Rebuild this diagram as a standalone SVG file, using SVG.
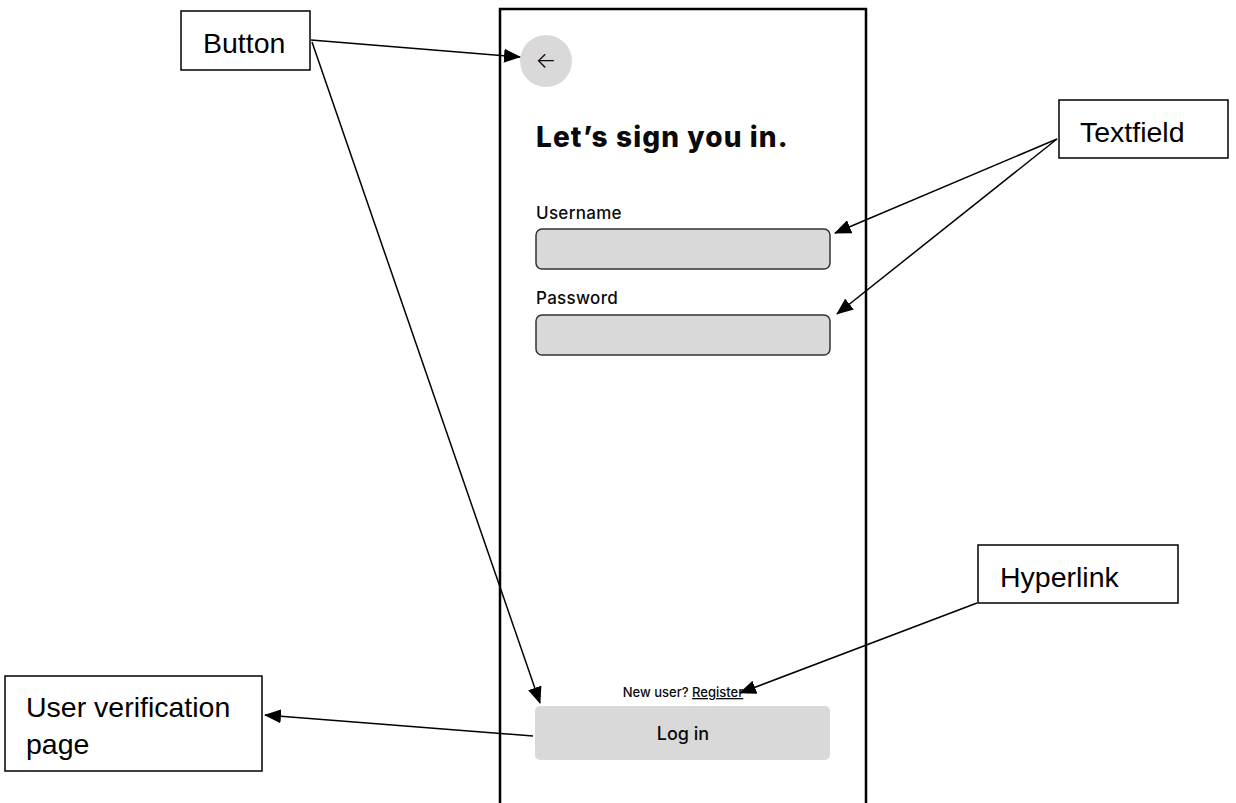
<svg xmlns="http://www.w3.org/2000/svg" width="1236" height="803" viewBox="0 0 1236 803">
<style>
.lbl{fill:#fff;stroke:#000;stroke-width:1.5}
.lt{font-family:"Liberation Sans",Arial,sans-serif;font-size:28.5px;fill:#000}
.ui{font-family:Inter,"Noto Sans",sans-serif;fill:#0a0a0a}
.field{fill:#d9d9d9;stroke:#333;stroke-width:1.5}
.con{stroke:#000;stroke-width:1.5;fill:none;marker-end:url(#ah)}
</style>
<defs>
<marker id="ah" markerUnits="userSpaceOnUse" markerWidth="17" markerHeight="14" refX="16" refY="7" orient="auto">
<path d="M0,0 L17,7 L0,14 Z" fill="#000"/>
</marker>
</defs>
<rect width="1236" height="803" fill="#fff"/>
<g id="phone">
<path d="M500,803 V9 H866 V803" fill="none" stroke="#000" stroke-width="2.5"/>
</g>
<g id="back-button">
<circle cx="546" cy="61" r="26" fill="#d9d9d9"/>
<text x="546" y="68" class="ui" font-size="22" font-weight="300" text-anchor="middle">←</text>
</g>
<g id="title">
<text x="536" y="147" class="ui" font-size="28" font-weight="800" letter-spacing="1.1">Let’s sign you in.</text>
</g>
<g id="username">
<text x="536" y="219" class="ui" font-size="17" font-weight="500" letter-spacing="0.3">Username</text>
<rect x="536" y="229" width="294" height="40" rx="6" class="field"/>
</g>
<g id="password">
<text x="536" y="304" class="ui" font-size="17" font-weight="500" letter-spacing="0.3">Password</text>
<rect x="536" y="315" width="294" height="40" rx="6" class="field"/>
</g>
<g id="register">
<text x="683" y="697" class="ui" font-size="13" font-weight="500" text-anchor="middle">New user? <tspan text-decoration="underline">Register</tspan></text>
</g>
<g id="login">
<rect x="535" y="706" width="295" height="54" rx="5" fill="#d9d9d9"/>
<text x="683" y="740" class="ui" font-size="18" font-weight="500" text-anchor="middle">Log in</text>
</g>
<g id="label-button">
<rect x="181" y="11" width="129" height="59" class="lbl"/>
<text x="203" y="53" class="lt">Button</text>
</g>
<g id="label-textfield">
<rect x="1059" y="100" width="169" height="58" class="lbl"/>
<text x="1080" y="142" class="lt">Textfield</text>
</g>
<g id="label-hyperlink">
<rect x="978" y="545" width="200" height="58" class="lbl"/>
<text x="1000" y="587" class="lt">Hyperlink</text>
</g>
<g id="label-verification">
<rect x="5" y="676" width="257" height="95" class="lbl"/>
<text x="26" y="717" class="lt">User verification</text>
<text x="26" y="754" class="lt">page</text>
</g>
<g id="connectors">
<line x1="311" y1="40" x2="520" y2="57" class="con"/>
<line x1="312" y1="42" x2="540" y2="703" class="con"/>
<line x1="1057" y1="139" x2="835" y2="233" class="con"/>
<line x1="1057" y1="139" x2="837" y2="314" class="con"/>
<line x1="977" y1="603" x2="740" y2="693" class="con"/>
<line x1="533" y1="736" x2="265" y2="715" class="con"/>
</g>
</svg>
